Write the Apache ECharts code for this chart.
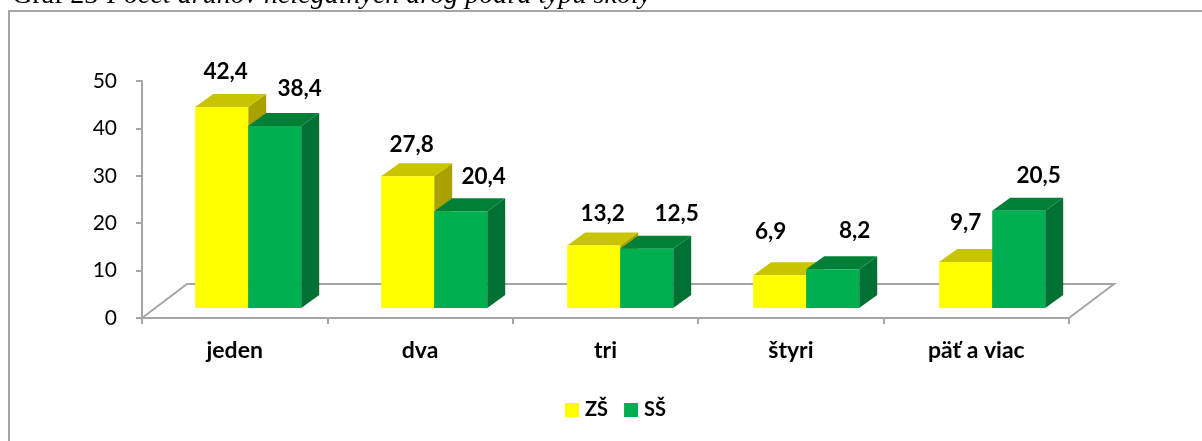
<!DOCTYPE html>
<html>
	<head>
		<meta charset="UTF-8">
		<title>Graf 23</title>
		<style>
			html, body { margin: 0; padding: 0; background: #fff; }
			#chart { width: 1202px; height: 441px; }
		</style>
	</head>
	<body>
		<div id="chart"></div>
		<script src="https://cdn.jsdelivr.net/npm/echarts@6/dist/echarts.min.js"></script>
		<script type="text/javascript">
			var categories = ['jeden', 'dva', 'tri', 'štyri', 'päť a viac'];
			var zsValues = [42.4, 27.8, 13.2, 6.9, 9.7];
			var ssValues = [38.4, 20.4, 12.5, 8.2, 20.5];
			var yTicks = { min: 0, max: 50, step: 10 };

			// label offsets from the front face of each bar [dx, dy]
			var zsLabelShift = [[4, -35], [4, -31], [9, -32], [-9, -44], [0, -39]];
			var ssLabelShift = [[25, -37], [23, -35], [30, -35], [22, -38], [20, -35]];

			var FONT = 'Lato, "Open Sans", sans-serif';
			var SERIF = '"Liberation Serif", serif';
			var GRAY = '#a6a6a6';
			var BAR_W = 53, DEPTH_X = 18, DEPTH_Y = 13, BASE_LIFT = 10, GROUP_SHIFT = 13.5, GROUP_DRIFT = 0.6;

			function poly(points, color) {
				return { type: 'polygon', shape: { points: points }, style: { fill: color } };
			}

			// one bar: front, top and side faces plus its value label
			function barRenderer(side, colors, shifts) {
				return function(params, api) {
					var i = api.value(0), v = api.value(1);
					var top = api.coord([i, v]), base = api.coord([i, 0]);
					var x0 = top[0] + GROUP_SHIFT + i * GROUP_DRIFT + (side ? 0 : -BAR_W), x1 = x0 + BAR_W;
					var y0 = top[1] - BASE_LIFT, y1 = base[1] - BASE_LIFT;
					var s = shifts[i];
					return {
						type: 'group',
						children: [
							poly([[x1, y0], [x1 + DEPTH_X, y0 - DEPTH_Y], [x1 + DEPTH_X, y1 - DEPTH_Y], [x1, y1]], colors.side),
							poly([[x0, y0], [x0 + DEPTH_X, y0 - DEPTH_Y], [x1 + DEPTH_X, y0 - DEPTH_Y], [x1, y0]], colors.top),
							{ type: 'rect', shape: { x: x0, y: y0, width: BAR_W, height: y1 - y0 }, style: { fill: colors.front } },
							{
								type: 'text',
								z2: 100,
								style: {
									x: (x0 + x1) / 2 + s[0], y: y0 + s[1],
									text: v.toFixed(1).replace('.', ','),
									align: 'center', verticalAlign: 'middle',
									font: 'bold 22.5px ' + FONT, fill: '#000'
								}
							}
						]
					};
				};
			}

			function floorRenderer(params) {
				var c = params.coordSys, dx = 45, dy = 34;
				var bottom = c.y + c.height, right = c.x + c.width;
				return {
					type: 'polyline',
					shape: { points: [[c.x, bottom], [c.x + dx, bottom - dy], [right + dx, bottom - dy], [right, bottom]] },
					style: { stroke: GRAY, lineWidth: 2, fill: null }
				};
			}

			function toPairs(values) {
				return values.map(function(v, i) { return [i, v]; });
			}

			var myChart = echarts.init(document.getElementById('chart'));

			var option = {
				animation: false,
				backgroundColor: '#fff',
				graphic: [
					{
						type: 'text',
						x: 12, y: -4,
						style: {
							text: 'Graf 23',
							verticalAlign: 'middle',
							font: '28px ' + SERIF, fill: '#000'
						}
					},
					{
						type: 'text',
						x: 107, y: -4,
						style: {
							text: 'Počet druhov nelegálnych drog podľa typu školy',
							verticalAlign: 'middle',
							font: 'italic 28px ' + SERIF, fill: '#000'
						}
					},
					{
						type: 'polyline',
						shape: { points: [[9, 441], [9, 11], [1202, 11]] },
						style: { stroke: GRAY, lineWidth: 2, fill: null }
					}
				],
				grid: { left: 142, top: 81, width: 927, height: 237 },
				legend: {
					data: ['ZŠ', 'SŠ'],
					left: 560,
					top: 395,
					itemWidth: 14,
					itemHeight: 14,
					itemGap: 16,
					icon: 'rect',
					textStyle: { fontFamily: FONT, fontWeight: 'bold', fontSize: 20, color: '#000', padding: [0, 0, 0, 1] }
				},
				xAxis: {
					type: 'category',
					data: categories,
					axisLine: { lineStyle: { color: GRAY, width: 2 } },
					axisTick: { show: true, alignWithLabel: false, length: 6, lineStyle: { color: GRAY, width: 2 } },
					axisLabel: { margin: 21, interval: 0, fontFamily: FONT, fontWeight: 'bold', fontSize: 23, color: '#000' }
				},
				yAxis: {
					type: 'value',
					min: yTicks.min,
					max: yTicks.max,
					interval: yTicks.step,
					splitLine: { show: false },
					axisLine: { show: true, lineStyle: { color: GRAY, width: 2 } },
					axisTick: { show: true, length: 6, lineStyle: { color: GRAY, width: 2 } },
					axisLabel: { margin: 25, padding: [4, 0, 0, 0], fontFamily: FONT, fontSize: 21, color: '#000' }
				},
				series: [
					{
						name: 'floor',
						type: 'custom',
						silent: true,
						renderItem: floorRenderer,
						data: [[0, 0]]
					},
					{
						name: 'ZŠ',
						type: 'custom',
						renderItem: barRenderer(0, { front: '#ffff00', top: '#c8c400', side: '#a9a100' }, zsLabelShift),
						itemStyle: { color: '#ffff00' },
						encode: { x: 0, y: 1 },
						data: toPairs(zsValues)
					},
					{
						name: 'SŠ',
						type: 'custom',
						renderItem: barRenderer(1, { front: '#00b050', top: '#008037', side: '#007033' }, ssLabelShift),
						itemStyle: { color: '#00b050' },
						encode: { x: 0, y: 1 },
						data: toPairs(ssValues)
					}
				]
			};

			myChart.setOption(option);
		</script>
	</body>
</html>
